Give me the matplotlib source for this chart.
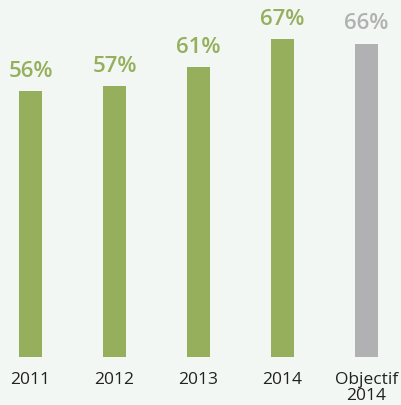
import matplotlib
matplotlib.use("Agg")
import matplotlib.pyplot as plt

categories = ["2011", "2012", "2013", "2014", "Objectif\n2014"]
values = [56, 57, 61, 67, 66]
labels = ["56%", "57%", "61%", "67%", "66%"]

GREEN = "#95af5c"
GREY = "#b1b1b3"
BG = "#f2f7f3"
colors = [GREEN, GREEN, GREEN, GREEN, GREY]

W, H, dpi = 401, 405, 100
fig = plt.figure(figsize=(W / dpi, H / dpi), dpi=dpi)
fig.patch.set_facecolor(BG)
ax = fig.add_axes([0, 1 - 357 / H, 1, 357 / H])
ax.patch.set_alpha(0.0)

x = list(range(len(categories)))
ax.bar(x, values, width=0.274, color=colors)
for xi, v, lab, c in zip(x, values, labels, colors):
    ax.text(xi, v + 1.9, lab, ha="center", va="bottom", fontsize=16,
            fontweight="semibold", color=c, family="Open Sans")

ax.set_xlim(-30.5 / 84, (W - 30.5) / 84)
ax.set_ylim(0, 357 / 4.75)
for s in ax.spines.values():
    s.set_visible(False)
ax.set_yticks([])
ax.set_xticks(x)
ax.set_xticklabels(categories, fontsize=12.5, color="#222222", family="Open Sans",
                   linespacing=1.0)
ax.tick_params(axis="x", length=0, pad=11)

fig.savefig("out.png", dpi=dpi, facecolor=BG)
